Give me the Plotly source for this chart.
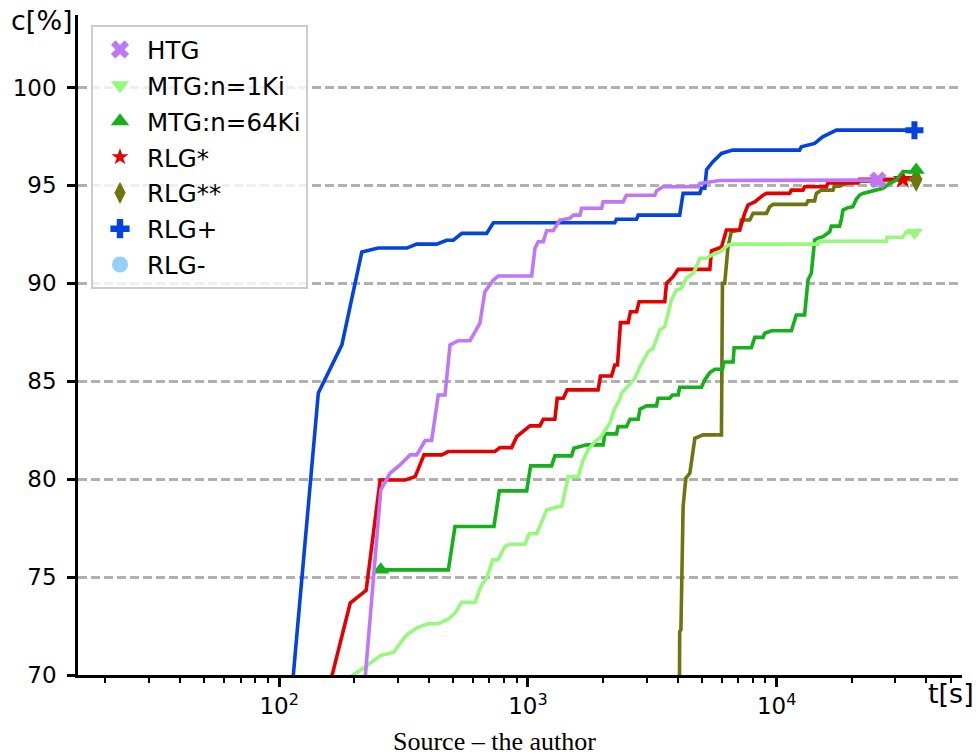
import plotly.graph_objects as go

# ---------------- data ----------------
names = ["HTG", "MTG:n=1Ki", "MTG:n=64Ki", "RLG*", "RLG**", "RLG+", "RLG-"]
colors = ["#bf77f6", "#96f97b", "#15b01a", "#e50000", "#6e750e", "#0343df", "#95d0fc"]
symbols = ["x", "triangle-down", "triangle-up", "star", "diamond-tall", "cross", "circle"]

htg_t = [191, 256, 279, 306, 336, 357, 386, 410, 436, 464, 486, 525, 585, 641, 671, 726, 760,
         1035, 1067, 1100, 1152, 1189, 1264, 1344, 1474, 1521, 1618, 1643, 1977, 2006, 2413,
         2489, 3237, 3287, 3489, 4830, 4909, 5906, 25530]
htg_c = [60, 79.45, 80.3, 80.73, 81.24, 81.24, 81.97, 81.97, 84.3, 84.3, 86.85, 87.07, 87.07,
         87.96, 89.57, 90.17, 90.37, 90.37, 91.79, 92.12, 92.12, 92.68, 92.7, 93.23, 93.32,
         93.48, 93.48, 93.83, 93.83, 94.16, 94.16, 94.5, 94.5, 94.72, 94.93, 94.93, 95.1,
         95.25, 95.27]

mtg1_t = [180, 198, 221.5, 254.6, 287.9, 325.8, 362.6, 397.8, 436.5, 478.6, 509, 541.6, 612.7,
          651.5, 682.6, 721.6, 755.6, 808.4, 846.6, 972.6, 1012, 1084, 1189, 1323, 1366, 1452,
          1592, 1667, 1746, 1857, 1945, 2037, 2133, 2233, 2339, 2377, 2570, 2692, 2819, 2952,
          3043, 3187, 3388, 3548, 3659, 3773, 3952, 4139, 4334, 4613, 4760, 4909, 5224, 5470,
          5906, 6373, 6600, 14650, 14900, 27600, 27800, 32150, 33100, 35810]
mtg1_c = [69.5, 70.0, 70.41, 70.99, 71.15, 72.06, 72.45, 72.62, 72.62, 72.86, 73.16, 73.71,
          73.71, 74.61, 74.95, 75.88, 75.88, 76.56, 76.68, 76.68, 77.21, 77.21, 78.43, 78.6,
          78.6, 80.13, 80.13, 80.98, 81.5, 81.92, 82.09, 82.51, 82.85, 83.62, 84.05, 84.39,
          84.9, 85.15, 85.74, 86.17, 86.51, 86.68, 87.62, 87.79, 88.55, 89.15, 89.66, 89.74,
          90.26, 90.51, 90.85, 91.28, 91.28, 91.44, 91.6, 91.95, 92.0, 92.0, 92.15, 92.15,
          92.35, 92.35, 92.6, 92.6]

mtg64_t = [256, 478.6, 509, 730, 767, 988, 1025, 1245, 1283, 1497, 1530, 1721, 2006, 2037, 2269,
           2305, 2489, 2570, 2775, 2819, 2998, 3287, 3337, 3715, 3811, 4017, 4074, 4984, 5140,
           5384, 5640, 6053, 6141, 6678, 6745, 7909, 8160, 8815, 8954, 9520, 11460, 11620,
           11990, 12950, 13150, 13360, 13780, 14210, 14650, 15350, 16330, 16590, 17900, 18180,
           18470, 19330, 20240, 20890, 21530, 22210, 26740, 28430, 30250, 32150, 34740, 36390]
mtg64_c = [75.37, 75.37, 77.58, 77.58, 79.4, 79.4, 80.68, 80.68, 81.19, 81.19, 81.58, 81.75,
           81.75, 82.31, 82.31, 82.68, 82.68, 83.06, 83.06, 83.57, 83.74, 83.74, 84.13, 84.13,
           84.3, 84.3, 84.69, 84.69, 85.07, 85.44, 85.61, 85.61, 85.98, 85.98, 86.71, 86.71,
           87.24, 87.24, 87.45, 87.58, 87.58, 87.82, 88.38, 88.38, 89.1, 90.17, 90.51, 92.21,
           92.3, 92.38, 92.63, 92.92, 92.92, 93.23, 93.74, 93.86, 93.91, 94.29, 94.5, 94.59,
           94.85, 95.1, 95.27, 95.7, 95.7, 95.78]

rlgs_t = [130, 192.9, 223.6, 254.6, 321, 352, 382, 450, 478, 736, 772, 860, 901, 930, 958, 1019,
          1117, 1152, 1283, 1311, 1387, 1438, 1914, 1958, 2168, 2233, 2290, 2355, 2528, 2583,
          2734, 2798, 3548, 3605, 3834, 4017, 5384, 5470, 5996, 6280, 7100, 7280, 7433, 7670,
          8160, 8815, 9095, 11270, 11460, 12760, 12950, 15850, 16070, 21220, 21500, 32150]
rlgs_c = [65, 73.67, 74.32, 79.96, 79.96, 80.13, 81.24, 81.24, 81.41, 81.41, 81.61, 81.61,
          82.17, 82.31, 82.5, 82.72, 82.72, 83.06, 83.06, 84.13, 84.13, 84.56, 84.56, 85.27,
          85.27, 85.83, 85.83, 87.99, 87.99, 88.55, 88.55, 89.06, 89.06, 90.0, 90.34, 90.71,
          90.71, 91.66, 91.84, 92.72, 92.72, 93.27, 93.57, 94.0, 94.16, 94.5, 94.59, 94.59,
          94.76, 94.76, 94.93, 94.93, 95.13, 95.13, 95.31, 95.31]

rlgss_t = [4050, 4074, 4120, 4205, 4313, 4477, 4688, 5062, 5996, 6053, 6180, 6280, 6373, 6570,
           7100, 7210, 7790, 8035, 9095, 9380, 9670, 13150, 13360, 14210, 14440, 15120, 16830,
           17090, 17900, 19050, 21500, 36390]
rlgss_c = [65, 72.22, 72.3, 78.6, 80.05, 80.31, 82.09, 82.26, 82.26, 90.0, 90.0, 91.19, 91.87,
           92.63, 92.72, 93.23, 93.23, 93.57, 93.57, 93.91, 94.03, 94.03, 94.21, 94.21, 94.59,
           94.76, 94.76, 94.96, 94.96, 95.1, 95.2, 95.3]

rlgp_t = [97, 143.6, 178.6, 214.8, 250, 326, 357, 429.5, 471, 501, 542, 682, 726, 2233, 2269,
          2734, 2775, 4074, 4205, 4909, 4984, 5140, 5224, 5530, 5996, 6655, 12360, 12560,
          14210, 15310, 17380, 35800]
rlgp_c = [60, 84.4, 86.86, 91.6, 91.8, 91.8, 92.0, 92.0, 92.2, 92.2, 92.55, 92.55, 93.09,
          93.09, 93.27, 93.27, 93.48, 93.48, 94.59, 94.59, 94.85, 94.85, 95.8, 96.2, 96.63,
          96.8, 96.8, 96.97, 97.14, 97.48, 97.82, 97.82]

rlgm_t = []
rlgm_c = []

series_t = [htg_t, mtg1_t, mtg64_t, rlgs_t, rlgss_t, rlgp_t, rlgm_t]
series_c = [htg_c, mtg1_c, mtg64_c, rlgs_c, rlgss_c, rlgp_c, rlgm_c]

y_ticks = [70, 75, 80, 85, 90, 95, 100]
x_ticks = [100, 1000, 10000]
x_ticktext = ["10<sup>2</sup>", "10<sup>3</sup>", "10<sup>4</sup>"]
x_minor = [m * d for d in (10, 100, 1000, 10000) for m in range(2, 10) if m * d <= 50000]

# ---------------- layout constants ----------------
W, H = 979, 755
ML, MR, MT, MB = 78, 17, 15, 80
PW, PH = W - ML - MR, H - MT - MB
FONT = "DejaVu Sans"

def px(x):
    return (x - ML) / PW

def py(y):
    return (H - MB - y) / PH

plot_marker_size = [15, 15, 15, 15, 18, 15, 15]
legend_marker_size = [16, 16, 16, 13, 16, 16, 16]

fig = go.Figure()

# draw in reverse order so HTG ends up on top
for i in reversed(range(len(names))):
    t, c = series_t[i], series_c[i]
    if not t:
        continue
    fig.add_trace(go.Scatter(
        x=t, y=c, mode="lines", line=dict(color=colors[i], width=3.6),
        showlegend=False, hoverinfo="skip"))
    fig.add_trace(go.Scatter(
        x=[t[0], t[-1]], y=[c[0], c[-1]], mode="markers",
        marker=dict(symbol=symbols[i], color=colors[i], size=plot_marker_size[i],
                    line=dict(width=0)),
        showlegend=False, cliponaxis=True, hoverinfo="skip"))

# legend entries (marker only)
for i, n in enumerate(names):
    fig.add_trace(go.Scatter(
        x=[None], y=[None], mode="markers", name=n, legendgroup=n,
        marker=dict(symbol=symbols[i], color=colors[i], size=legend_marker_size[i],
                    line=dict(width=0))))

fig.update_layout(
    width=W, height=H,
    margin=dict(l=ML, r=MR, t=MT, b=MB),
    paper_bgcolor="white", plot_bgcolor="white",
    font=dict(family=FONT, size=23, color="black"),
    showlegend=True,
    legend=dict(
        x=px(91), y=py(25), xanchor="left", yanchor="top",
        bgcolor="rgba(255,255,255,0.8)", bordercolor="#cccccc", borderwidth=2,
        font=dict(family=FONT, size=24.5, color="black"),
        traceorder="grouped", tracegroupgap=1, itemwidth=44,
    ),
    xaxis=dict(
        type="log", range=[1.191, 4.745],
        tickmode="array", tickvals=x_ticks, ticktext=x_ticktext,
        ticks="outside", ticklen=9, tickwidth=2.5, tickcolor="black",
        showline=True, linewidth=2.5, linecolor="black",
        showgrid=False, zeroline=False,
        tickfont=dict(family=FONT, size=23, color="black"),
        minor=dict(tickmode="array", tickvals=x_minor, ticks="outside",
                   ticklen=5, tickwidth=2, tickcolor="black", showgrid=False),
    ),
    yaxis=dict(
        range=[70, 103.7],
        tickmode="array", tickvals=y_ticks,
        ticks="outside", ticklen=8, tickwidth=2.5, tickcolor="black",
        showline=True, linewidth=2.5, linecolor="black",
        showgrid=True, gridcolor="#b0b0b0", gridwidth=2.5, griddash="9px,4px",
        zeroline=False,
        tickfont=dict(family=FONT, size=23, color="black"),
        ticklabelstandoff=6,
    ),
    annotations=[
        dict(text="c[%]", xref="paper", yref="paper", x=px(42), y=py(21),
             xanchor="center", yanchor="middle", showarrow=False,
             font=dict(family=FONT, size=27, color="black")),
        dict(text="t[s]", xref="paper", yref="paper", x=px(951), y=py(693),
             xanchor="center", yanchor="middle", showarrow=False,
             font=dict(family=FONT, size=27, color="black")),
        dict(text="Source \u2013 the author", xref="paper", yref="paper",
             x=px(494), y=py(741), xanchor="center", yanchor="middle", showarrow=False,
             font=dict(family="Liberation Serif", size=26, color="black")),
    ],
)

fig.write_html("out.html")
